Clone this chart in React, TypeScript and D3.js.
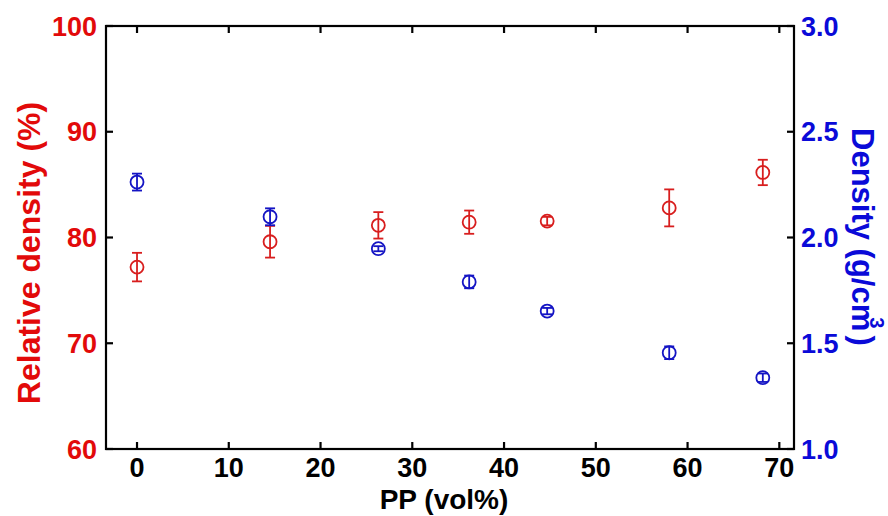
import React from "react";
import * as d3 from "d3";

const ppVol = [0, 14.5, 26.3, 36.2, 44.7, 58.0, 68.2];
const relDensity = [77.2, 79.6, 81.15, 81.45, 81.55, 82.8, 86.15];
const relDensityErr = [1.35, 1.5, 1.25, 1.1, 0.4, 1.75, 1.2];
const density = [2.262, 2.098, 1.947, 1.79, 1.652, 1.455, 1.337];
const densityErr = [0.04, 0.04, 0.012, 0.03, 0.015, 0.03, 0.02];
const xTicks = [0, 10, 20, 30, 40, 50, 60, 70];
const leftTicks = [60, 70, 80, 90, 100];
const rightTicks = [1.0, 1.5, 2.0, 2.5, 3.0];

const W = 888;
const H = 516;
const L = 106, R = 794, T = 26, B = 449;
const RED_TXT = "#e20a0a";
const RED = "#d81e1e";
const BLUE_TXT = "#0a0ad8";
const BLUE = "#1414c4";
const FONT = "'Liberation Sans', Arial, sans-serif";

export default function App() {
  const x = d3.scaleLinear().domain([-3.38, 71.6]).range([L, R]);
  const yL = d3.scaleLinear().domain([60, 100]).range([B, T]);
  const yR = d3.scaleLinear().domain([1, 3]).range([B, T]);
  const tk = 7;
  const cap = 5;
  const r = 6.5;

  const series = (
    vals: number[],
    errs: number[],
    y: d3.ScaleLinear<number, number>,
    color: string,
    key: string
  ) =>
    ppVol.map((xv, i) => {
      const cx = x(xv);
      const cy = y(vals[i]);
      const y1 = y(vals[i] + errs[i]);
      const y2 = y(vals[i] - errs[i]);
      return (
        <g key={key + i} stroke={color} strokeWidth={1.8} fill="none">
          <line x1={cx} x2={cx} y1={y1} y2={y2} />
          <line x1={cx - cap} x2={cx + cap} y1={y1} y2={y1} />
          <line x1={cx - cap} x2={cx + cap} y1={y2} y2={y2} />
          <circle cx={cx} cy={cy} r={r} />
        </g>
      );
    });

  return (
    <svg width={W} height={H} style={{ position: "absolute", left: 0, top: 0, background: "#fff" }} fontFamily={FONT} fontWeight="bold">
      <g stroke="#000" strokeWidth={2.2}>
        {xTicks.map((t) => (
          <g key={"xt" + t}>
            <line x1={x(t)} x2={x(t)} y1={B} y2={B - tk} />
            <line x1={x(t)} x2={x(t)} y1={T} y2={T + tk} />
          </g>
        ))}
        {leftTicks.map((t) => (
          <line key={"lt" + t} x1={L} x2={L + tk} y1={yL(t)} y2={yL(t)} />
        ))}
        {rightTicks.map((t) => (
          <line key={"rt" + t} x1={R} x2={R - tk} y1={yR(t)} y2={yR(t)} />
        ))}
      </g>
      <rect x={L} y={T} width={R - L} height={B - T} fill="none" stroke="#000" strokeWidth={2.2} />

      {series(relDensity, relDensityErr, yL, RED, "r")}
      {series(density, densityErr, yR, BLUE, "b")}

      <g fontSize={27} fill="#000" textAnchor="middle">
        {xTicks.map((t) => (
          <text key={"xl" + t} x={x(t)} y={477}>{t}</text>
        ))}
      </g>
      <g fontSize={27} fill={RED_TXT} textAnchor="end">
        {leftTicks.map((t) => (
          <text key={"ll" + t} x={97} y={yL(t) + 9.5}>{t}</text>
        ))}
      </g>
      <g fontSize={27} fill={BLUE_TXT} textAnchor="start">
        {rightTicks.map((t) => (
          <text key={"rl" + t} x={801} y={yR(t) + 9.5}>{t.toFixed(1)}</text>
        ))}
      </g>

      <text x={444} y={509} fontSize={28} textAnchor="middle" fill="#000">PP (vol%)</text>
      <text transform="translate(40,253) rotate(-90)" fontSize={32} textAnchor="middle" fill={RED_TXT}>
        Relative density (%)
      </text>
      <text transform="translate(852,128) rotate(90)" fontSize={31} textAnchor="start" fill={BLUE_TXT}>
        <tspan>Density (g/cm</tspan>
        <tspan dx={-14} dy={-18} fontSize={20}>3</tspan>
        <tspan dx={7} dy={18}>)</tspan>
      </text>
    </svg>
  );
}
